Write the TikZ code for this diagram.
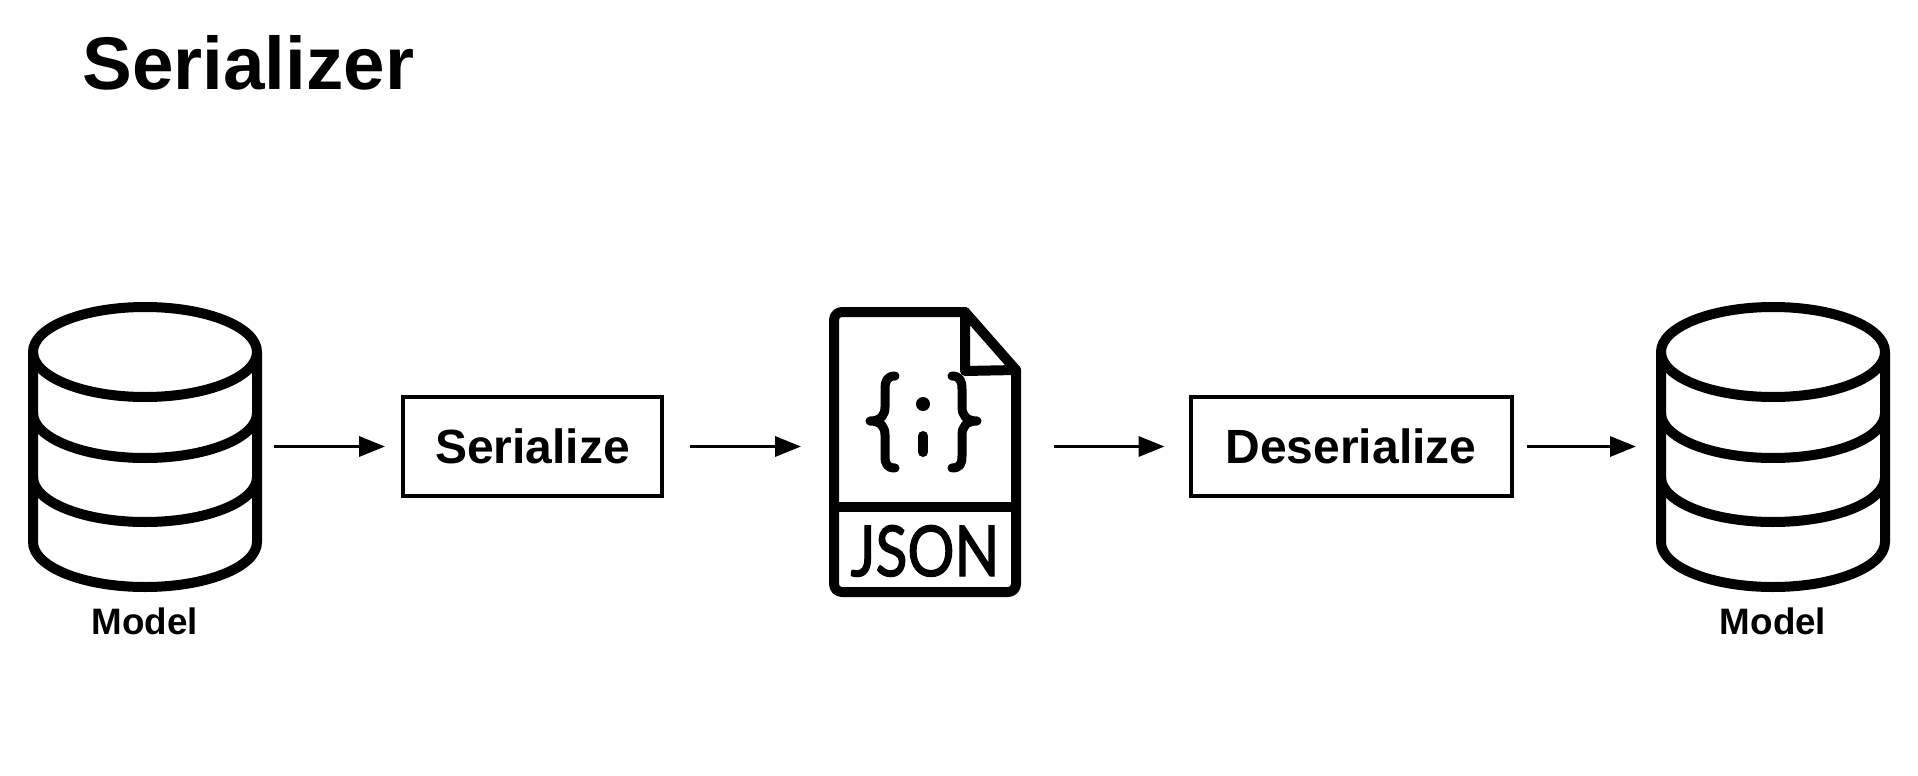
\documentclass[tikz,border=0pt]{standalone}
\usepackage{fontspec}
\setmainfont{Liberation Sans}
\newfontfamily\jsonfont[FakeBold=2]{Lato}
\usetikzlibrary{arrows.meta}
\tikzset{
  x=0.5pt,y=-0.5pt,
  icon/.style={line width=5pt,line cap=round,line join=round,black},
  slab/.style={draw=black,line width=2pt,minimum height=49.5pt,inner sep=0pt,font=\fontsize{24}{28}\selectfont\bfseries},
  flow/.style={line width=1.7pt,black,-{Stealth[length=13pt,width=10pt,inset=0pt]}},
  modelcap/.style={font=\fontsize{18.4}{22}\selectfont\bfseries,inner sep=0pt},
  ghost/.style={inner sep=0pt,outer sep=0pt}
}
\newcommand{\dbicon}[1]{%
  \begin{scope}[shift={(#1,0)}]
    \draw[icon] (0,352) ellipse [x radius=112,y radius=45];
    \draw[icon] (-112,352) -- (-112,542) arc [start angle=180,end angle=0,x radius=112,y radius=45] -- (112,352);
    \draw[icon] (-112,413) arc [start angle=180,end angle=0,x radius=112,y radius=45];
    \draw[icon] (-112,477) arc [start angle=180,end angle=0,x radius=112,y radius=45];
  \end{scope}}
\begin{document}
\begin{tikzpicture}
\useasboundingbox (0,0) rectangle (1918,776);
\node[anchor=base west,inner sep=0pt,font=\fontsize{37.3}{44}\selectfont\bfseries] (title) at (82,89) {Serializer};

\dbicon{145}
\dbicon{1773}
\node[ghost,minimum width=117pt,minimum height=145pt] (db1) at (145,447) {};
\node[ghost,minimum width=117pt,minimum height=145pt] (db2) at (1773,447) {};
\node[modelcap,anchor=base] (m1) at (145,634) {Model};
\node[modelcap,anchor=base] (m2) at (1773,634) {Model};

\node[slab,minimum width=129.5pt] (ser) at (532.5,446.5) {Serialize};
\node[slab,minimum width=160.5pt] (des) at (1351,446.5) {Deserialize};

% JSON file icon
\node[ghost,minimum width=95pt,minimum height=145pt] (json) at (925,452) {};
\draw[icon,rounded corners=4pt] (965,312) -- (834,312) -- (834,592) -- (1016,592) -- (1016,370);
\draw[icon] (965,312) -- (1016,370) -- (965,371) -- cycle;
\draw[icon] (834,507) -- (1016,507);
\draw[icon,line width=4.5pt] (895,376) .. controls (887,376) and (885,381) .. (885,389) -- (885,407) .. controls (885,415) and (881,421) .. (870,421) .. controls (881,421) and (885,427) .. (885,435) -- (885,456) .. controls (885,464) and (887,468) .. (895,468);
\draw[icon,line width=4.5pt] (952,376) .. controls (960,376) and (962,381) .. (962,389) -- (962,407) .. controls (962,415) and (966,421) .. (977,421) .. controls (966,421) and (962,427) .. (962,435) -- (962,456) .. controls (962,464) and (960,468) .. (952,468);
\fill (923,404) circle [radius=7];
\draw[icon,line width=5pt] (923,436) -- (923,452);
\node[ghost,font=\jsonfont\fontsize{35}{40}\selectfont,xscale=0.84,anchor=base] (jt) at (925,576) {JSON};

\draw[flow,shorten <=6pt,shorten >=8pt] (db1.east |- ser.west) -- (ser.west);
\draw[flow,shorten <=13pt,shorten >=14.5pt] (ser.east) -- (ser.east -| json.west);
\draw[flow,shorten <=17pt,shorten >=12pt] (json.east |- des.west) -- (des.west);
\draw[flow,shorten <=6.5pt,shorten >=10pt] (des.east) -- (des.east -| db2.west);
\end{tikzpicture}
\end{document}
